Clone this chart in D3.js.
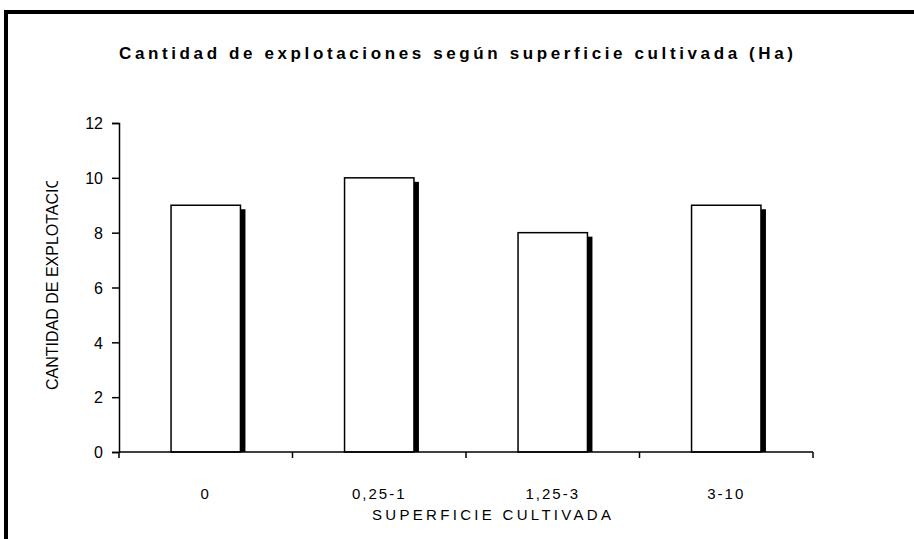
<!DOCTYPE html>
<html>
<head>
<meta charset="utf-8">
<script src="https://cdn.jsdelivr.net/npm/d3@7"></script>
<style>
  body { margin: 0; background: #fff; }
  svg { display: block; }
  text { font-family: "Liberation Sans", Arial, sans-serif; fill: #000; }
</style>
</head>
<body>
<svg width="914" height="539"></svg>
<script>
const categories = ['0', '0,25-1', '1,25-3', '3-10']
const values = [9, 10, 8, 9]
const yTicks = [0, 2, 4, 6, 8, 10, 12]

const svg = d3.select('svg')
const margin = { left: 119, right: 101, top: 123, bottom: 87 }
const width = 914, height = 539

// outer frame (runs past right and bottom edge)
svg.append('rect')
  .attr('x', 6).attr('y', 12)
  .attr('width', 960).attr('height', 600)
  .attr('fill', 'none').attr('stroke', '#000').attr('stroke-width', 4)

const x = d3.scaleBand()
  .domain(categories)
  .range([margin.left, width - margin.right])
  .paddingInner(0.6).paddingOuter(0.3)

const y = d3.scaleLinear()
  .domain([0, 12])
  .range([height - margin.bottom, margin.top])

const base = y(0)
const bandStep = x.step()

// shadows
svg.append('g').selectAll('rect')
  .data(values)
  .enter()
  .append('rect')
  .attr('x', (d, i) => x(categories[i]) + x.bandwidth())
  .attr('y', (d) => y(d) + 4)
  .attr('width', 5)
  .attr('height', (d) => base - y(d) - 4)
  .attr('fill', '#000')

// bars
svg.append('g').selectAll('rect')
  .data(values)
  .enter()
  .append('rect')
  .attr('x', (d, i) => x(categories[i]))
  .attr('y', (d) => y(d))
  .attr('width', x.bandwidth())
  .attr('height', (d) => base - y(d))
  .attr('fill', '#fff')
  .attr('stroke', '#000')
  .attr('stroke-width', 1.5)

// y axis
const yAxis = svg.append('g')
  .attr('transform', `translate(${margin.left},0)`)
  .call(d3.axisLeft(y).tickValues(yTicks).tickSize(7).tickPadding(9))
yAxis.select('.domain').attr('stroke-width', 1.5)
yAxis.selectAll('.tick line').attr('stroke-width', 1.5)
yAxis.selectAll('.tick text')
  .attr('font-family', '"Liberation Sans", Arial, sans-serif')
  .attr('font-size', 16)
  .attr('dy', '0.36em')

// x axis: ticks at category boundaries
const bounds = d3.range(categories.length + 1).map((i) => margin.left + i * bandStep)
const xg = svg.append('g')
xg.append('line')
  .attr('x1', margin.left).attr('x2', width - margin.right)
  .attr('y1', base).attr('y2', base)
  .attr('stroke', '#000').attr('stroke-width', 1.5)
xg.selectAll('line.tk')
  .data(bounds)
  .enter()
  .append('line')
  .attr('class', 'tk')
  .attr('x1', (d) => d).attr('x2', (d) => d)
  .attr('y1', base).attr('y2', base + 6)
  .attr('stroke', '#000').attr('stroke-width', 1.5)
xg.selectAll('text')
  .data(categories)
  .enter()
  .append('text')
  .attr('x', (d) => x(d) + x.bandwidth() / 2)
  .attr('y', base + 47)
  .attr('text-anchor', 'middle')
  .style('font-size', '15px')
  .style('letter-spacing', '2px')
  .text((d) => d)

// title
svg.append('text')
  .attr('x', 119).attr('y', 59)
  .attr('textLength', 674)
  .attr('lengthAdjust', 'spacing')
  .style('font-size', '17px')
  .style('font-weight', 'bold')
  .text('Cantidad de explotaciones según superficie cultivada (Ha)')

// x axis title
svg.append('text')
  .attr('x', 372).attr('y', 520)
  .attr('textLength', 239)
  .attr('lengthAdjust', 'spacing')
  .style('font-size', '15px')
  .text('SUPERFICIE CULTIVADA')

// y axis title, clipped like the original
svg.append('clipPath').attr('id', 'yclip')
  .append('rect').attr('x', 30).attr('y', 181).attr('width', 40).attr('height', 260)
svg.append('g').attr('clip-path', 'url(#yclip)')
  .append('text')
  .attr('transform', 'translate(58,390) rotate(-90)')
  .attr('text-anchor', 'start')
  .style('font-size', '16px')
  .text('CANTIDAD DE EXPLOTACIONES')
</script>
</body>
</html>
